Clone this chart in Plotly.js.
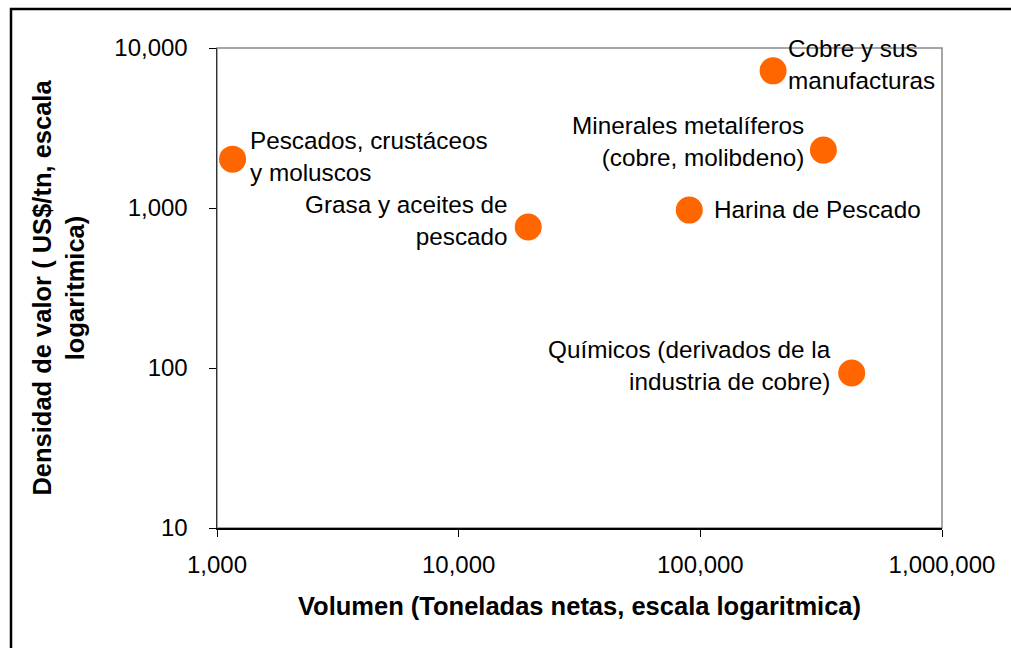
<!DOCTYPE html>
<html>
<head>
<meta charset="utf-8">
<script src="https://cdn.plot.ly/plotly-3.0.1.min.js"></script>
<style>
html,body{margin:0;padding:0;background:#fff;}
#chart{width:1011px;height:648px;}
</style>
</head>
<body>
<div id="chart"></div>
<script>
// Data
const categories = [
  "Pescados, crustáceos<br>y moluscos",
  "Grasa y aceites de<br>pescado",
  "Harina de Pescado",
  "Cobre y sus<br>manufacturas",
  "Minerales metalíferos<br>(cobre, molibdeno)",
  "Químicos (derivados de la<br>industria de cobre)"
];
const volumen = [1160, 19400, 90000, 200000, 323000, 423000];   // toneladas netas
const densidad = [2020, 760, 970, 7200, 2300, 93];               // US$/tn
const xTickVals = [1000, 10000, 100000, 1000000];
const xTickText = ["1,000", "10,000", "100,000", "1,000,000"];
const yTickVals = [10, 100, 1000, 10000];
const yTickText = ["10", "100", "1,000", "10,000"];

// label placement (style only)
const labelStyle = [
  {xanchor:"left",  align:"left",  xshift:15,  yshift:3},
  {xanchor:"right", align:"right", xshift:-18, yshift:7},
  {xanchor:"left",  align:"left",  xshift:23,  yshift:1},
  {xanchor:"left",  align:"left",  xshift:13,  yshift:6},
  {xanchor:"right", align:"right", xshift:-17, yshift:9},
  {xanchor:"right", align:"right", xshift:-19, yshift:8}
];

const font = "Liberation Sans, Arial, sans-serif";

const annotations = categories.map((c, i) => Object.assign({
  x: Math.log10(volumen[i]), y: Math.log10(densidad[i]),
  xref: "x", yref: "y", text: c, showarrow: false, yanchor: "middle",
  font: {family: font, size: 24.3, color: "#000"}
}, labelStyle[i]));

const trace = {
  x: volumen, y: densidad, text: categories.map(c => c.replace("<br>", " ")),
  type: "scatter", mode: "markers",
  marker: {color: "#FF6600", size: 27, line: {width: 0}},
  hoverinfo: "text+x+y", cliponaxis: false
};

const layout = {
  width: 1011, height: 648,
  margin: {l: 217, r: 69, t: 48, b: 120, autoexpand: false},
  paper_bgcolor: "#fff", plot_bgcolor: "#fff",
  showlegend: false,
  font: {family: font, size: 24, color: "#000"},
  xaxis: {
    type: "log", range: [3, 6], autorange: false,
    tickvals: xTickVals, ticktext: xTickText,
    ticks: "outside", ticklen: 7, tickwidth: 1, tickcolor: "#000",
    showgrid: false, zeroline: false,
    showline: true, linecolor: "#000", linewidth: 2,
    ticklabelstandoff: 7,
    tickfont: {family: font, size: 24, color: "#000"},
    title: {text: "Volumen (Toneladas netas, escala logaritmica)", standoff: 20,
            font: {family: font, size: 25.5, color: "#000", weight: "bold"}},
    automargin: false
  },
  yaxis: {
    type: "log", range: [1, 4], autorange: false,
    tickvals: yTickVals, ticktext: yTickText,
    ticks: "outside", ticklen: 7, tickwidth: 1, tickcolor: "#000",
    showgrid: false, zeroline: false,
    showline: true, linecolor: "#333", linewidth: 1.5,
    ticklabelstandoff: 16,
    tickfont: {family: font, size: 24, color: "#000"},
    title: {text: "Densidad de valor ( US$/tn, escala<br>logaritmica)", standoff: 22,
            font: {family: font, size: 25.5, color: "#000", weight: "bold"}},
    automargin: false
  },
  shapes: [
    {type: "rect", xref: "paper", yref: "paper", x0: 0, x1: 1, y0: 0, y1: 1,
     line: {color: "#888", width: 1.5}, layer: "below"},
    {type: "rect", xref: "paper", yref: "paper",
     x0: (11 - 217) / 725, x1: (1030 - 217) / 725,
     y0: (528 - 670) / 480, y1: (528 - 9) / 480,
     line: {color: "#000", width: 2.5}, layer: "above"}
  ],
  annotations: annotations
};

Plotly.newPlot("chart", [trace], layout, {displayModeBar: false, staticPlot: true});
</script>
</body>
</html>
